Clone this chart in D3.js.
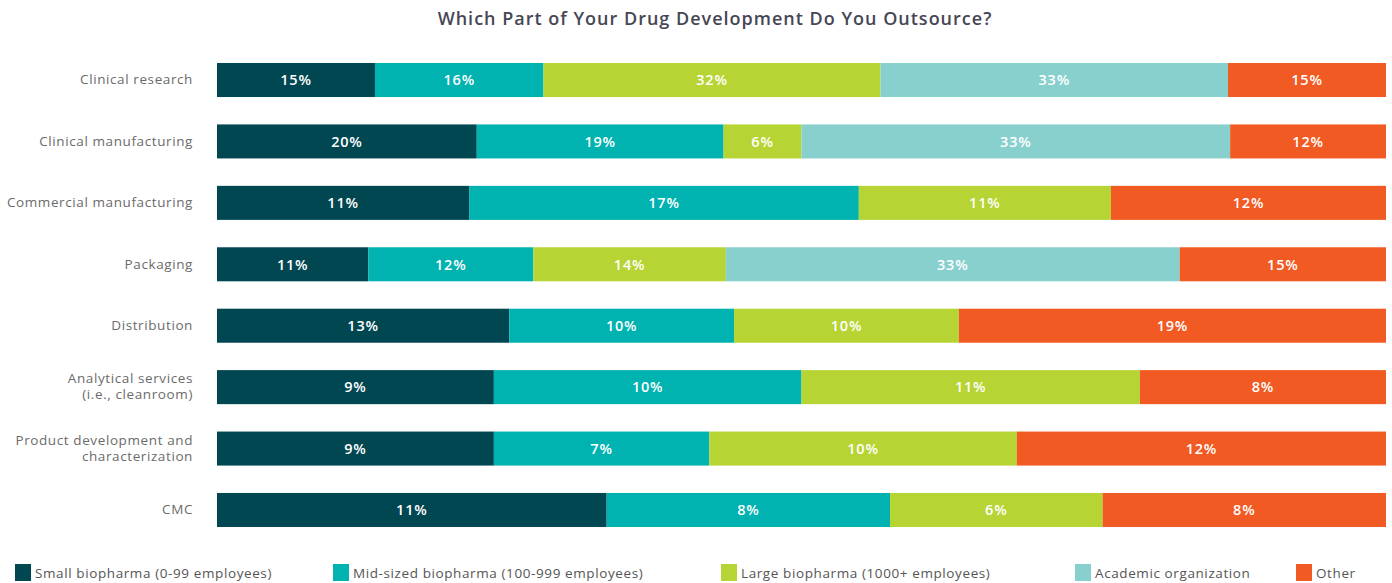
<!DOCTYPE html>
<html>
<head>
<meta charset="utf-8">
<script src="https://cdn.jsdelivr.net/npm/d3@7"></script>
<style>
  html, body { margin: 0; padding: 0; background: #fff; }
  svg { display: block; font-family: "Open Sans", Lato, sans-serif; }
</style>
</head>
<body>
<svg id="chart" width="1392" height="583"></svg>
<script>
// Survey categories (one bar each)
const categories = [
  "Clinical research",
  "Clinical manufacturing",
  "Commercial manufacturing",
  "Packaging",
  "Distribution",
  "Analytical services\n(i.e., cleanroom)",
  "Product development and\ncharacterization",
  "CMC"
];

// Respondent groups (stack order, left to right)
const seriesNames = [
  "Small biopharma (0-99 employees)",
  "Mid-sized biopharma (100-999 employees)",
  "Large biopharma (1000+ employees)",
  "Academic organization",
  "Other"
];

// Percentages per group, aligned with categories
const smallBiopharma   = [15, 20, 11, 11, 13, 9, 9, 11];
const midBiopharma     = [16, 19, 17, 12, 10, 10, 7, 8];
const largeBiopharma   = [32, 6, 11, 14, 10, 11, 10, 6];
const academicOrg      = [33, 33, 0, 33, 0, 0, 0, 0];
const otherGroup       = [15, 12, 12, 15, 19, 8, 12, 8];

const seriesColors = ["#014751", "#00b2b0", "#b6d433", "#88d0cd", "#f15a22"];

const seriesValues = [smallBiopharma, midBiopharma, largeBiopharma, academicOrg, otherGroup];

// Build rows for d3.stack
const rows = categories.map((c, i) => {
  const r = { category: c };
  seriesNames.forEach((s, j) => { r[s] = seriesValues[j][i]; });
  return r;
});

const stack = d3.stack()
  .keys(seriesNames)
  .offset(d3.stackOffsetExpand);
const stacked = stack(rows);

const svg = d3.select("#chart");

const x = d3.scaleLinear().domain([0, 1]).range([217, 1386]);
const y = d3.scaleBand()
  .domain(categories)
  .range([49.3, 540.7])
  .paddingInner(0.446)
  .paddingOuter(0.223);

const color = d3.scaleOrdinal().domain(seriesNames).range(seriesColors);

// Title
svg.append("text")
  .attr("x", 715)
  .attr("y", 25)
  .attr("text-anchor", "middle")
  .attr("font-size", 18)
  .attr("font-weight", 600)
  .attr("letter-spacing", 1.0)
  .attr("fill", "#464655")
  .text("Which Part of Your Drug Development Do You Outsource?");

// Bars
const layers = svg.append("g").selectAll("g")
  .data(stacked)
  .join("g")
  .attr("fill", d => color(d.key));

layers.selectAll("rect")
  .data(d => d.map(v => ({ v, key: d.key })))
  .join("rect")
  .attr("x", d => x(d.v[0]))
  .attr("y", d => y(d.v.data.category))
  .attr("width", d => Math.max(0, x(d.v[1]) - x(d.v[0])))
  .attr("height", y.bandwidth());

// Value labels
layers.selectAll("text")
  .data(d => d.map(v => ({ v, key: d.key })).filter(e => e.v.data[e.key] > 0))
  .join("text")
  .attr("x", d => (x(d.v[0]) + x(d.v[1])) / 2)
  .attr("y", d => y(d.v.data.category) + y.bandwidth() / 2)
  .attr("dy", "0.36em")
  .attr("text-anchor", "middle")
  .attr("font-size", 14.5)
  .attr("font-weight", 600)
  .attr("letter-spacing", 0.8)
  .attr("fill", "#ffffff")
  .text(d => d.v.data[d.key] + "%");

// Category axis
const yAxis = svg.append("g")
  .attr("transform", "translate(193,0)")
  .call(d3.axisLeft(y).tickSize(0).tickPadding(0));
yAxis.select(".domain").remove();
yAxis.selectAll(".tick text").each(function(d) {
  const t = d3.select(this);
  const lines = d.split("\n");
  t.text(null)
    .attr("font-size", 13.5)
    .attr("letter-spacing", 0.6)
    .attr("fill", "#6b6b6b")
    .attr("font-family", "\"Open Sans\", Lato, sans-serif")
    .attr("text-anchor", "end");
  const lh = 16;
  lines.forEach((ln, i) => {
    t.append("tspan")
      .attr("x", 0)
      .attr("dy", i === 0 ? (0.32 - (lines.length - 1) * lh / 2 / 13.5) + "em" : lh + "px")
      .text(ln);
  });
});

// Legend
const legendX = [15, 333, 721, 1075, 1296];
const legend = svg.append("g").selectAll("g")
  .data(seriesNames)
  .join("g")
  .attr("transform", (d, i) => `translate(${legendX[i]},564)`);
legend.append("rect")
  .attr("width", 16)
  .attr("height", 17)
  .attr("fill", d => color(d));
legend.append("text")
  .attr("x", 20)
  .attr("y", 13.5)
  .attr("font-size", 13.5)
  .attr("letter-spacing", 0.6)
  .attr("fill", "#555")
  .text(d => d);
</script>
</body>
</html>
